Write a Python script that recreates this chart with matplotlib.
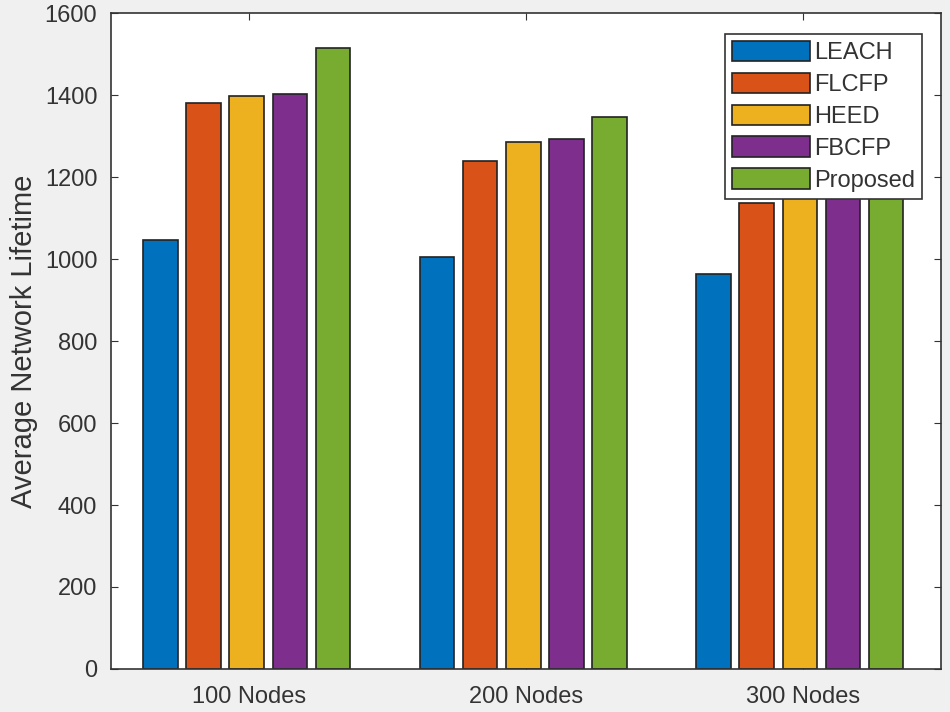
import matplotlib.pyplot as plt
import numpy as np

categories = ["100 Nodes", "200 Nodes", "300 Nodes"]
methods = ["LEACH", "FLCFP", "HEED", "FBCFP", "Proposed"]

leach = [1046, 1005, 963]
flcfp = [1380, 1239, 1137]
heed = [1398, 1285, 1230]
fbcfp = [1402, 1293, 1260]
proposed = [1515, 1346, 1300]

series = [leach, flcfp, heed, fbcfp, proposed]
colors = ["#0072BD", "#D95319", "#EDB120", "#7E2F8E", "#77AC30"]

plt.rcParams['font.family'] = ['Liberation Sans', 'DejaVu Sans']

fig = plt.figure(figsize=(9.5, 7.12), dpi=100, facecolor="#f0f0f0")
ax = fig.add_axes([0.117, 0.0604, 0.8735, 0.9213])

x = np.arange(1, len(categories) + 1)
step = 0.156
width = 0.125
for i, (vals, name) in enumerate(zip(series, methods)):
    ax.bar(x + (i - 2) * step - 0.01, vals, width, color=colors[i], edgecolor="#222222",
           linewidth=1.2, label=name, zorder=2)

ax.set_xlim(0.5, 3.5)
ax.set_ylim(0, 1600)
ax.set_xticks(x)
ax.set_xticklabels(categories)
ax.set_yticks(np.arange(0, 1601, 200))
ax.tick_params(direction="in", top=True, right=True, labelsize=17,
               colors="#333333", length=5)
ax.tick_params(axis="y", pad=10)
ax.tick_params(axis="x", pad=12)
for s in ax.spines.values():
    s.set_color("#333333")
    s.set_linewidth(1.2)
ax.set_ylabel("Average Network Lifetime", fontsize=21, color="#333333", labelpad=5)

leg = ax.legend(loc="upper right", bbox_to_anchor=(0.977, 0.968), fontsize=17,
                handlelength=3.3, handleheight=0.95, labelspacing=0.36,
                handletextpad=0.15, borderpad=0.3, borderaxespad=0,
                fancybox=False, framealpha=1, edgecolor="#333333")
leg.get_frame().set_linewidth(1.2)
for t in leg.get_texts():
    t.set_color("#333333")

plt.savefig("out.png", dpi=100, facecolor=fig.get_facecolor())
